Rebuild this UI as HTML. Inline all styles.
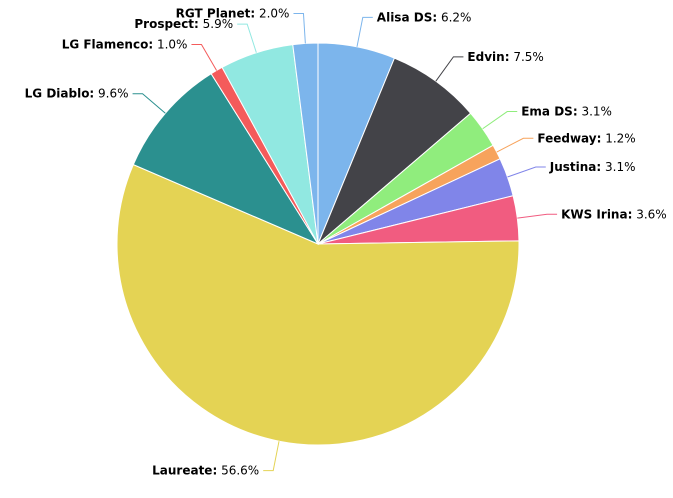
<!DOCTYPE html>
<html><head><meta charset="utf-8">
<style>
html,body{margin:0;padding:0;background:#fff;}
svg{display:block;font-family:"DejaVu Sans","Liberation Sans",sans-serif;}
</style></head>
<body>
<svg id="chart" width="673" height="498" viewBox="0 0 673 498" xmlns="http://www.w3.org/2000/svg">
<rect width="673" height="498" fill="#ffffff"/>
<g id="slices"></g>
<g id="labels"></g>
</svg>
<script>
const categories = ["Alisa DS","Edvin","Ema DS","Feedway","Justina","KWS Irina","Laureate","LG Diablo","LG Flamenco","Prospect","RGT Planet"];
const values = [6.2,7.5,3.1,1.2,3.1,3.6,56.6,9.6,1.0,5.9,2.0];
const colors = ["#7cb5ec","#434348","#90ed7d","#f7a35c","#8085e9","#f15c80","#e4d354","#2b908f","#f45b5b","#91e8e1","#7cb5ec"];

const NS = "http://www.w3.org/2000/svg";
const cx = 318, cy = 244, r = 201, dist = 30;
const total = values.reduce((a,b)=>a+b,0);
const sg = document.getElementById('slices');
const lg = document.getElementById('labels');
function pt(ang, rad){ return [cx + rad*Math.sin(ang), cy - rad*Math.cos(ang)]; }
let cum = 0;
values.forEach((v,i)=>{
  const a0 = cum/total*2*Math.PI;
  cum += v;
  const a1 = cum/total*2*Math.PI;
  const p0 = pt(a0,r), p1 = pt(a1,r);
  const large = (a1-a0) > Math.PI ? 1 : 0;
  const path = document.createElementNS(NS,'path');
  path.setAttribute('d',`M${cx},${cy} L${p0[0]},${p0[1]} A${r},${r} 0 ${large} 1 ${p1[0]},${p1[1]} Z`);
  path.setAttribute('fill',colors[i]);
  path.setAttribute('stroke','#ffffff');
  path.setAttribute('stroke-width','1');
  
  
  sg.appendChild(path);

  const am = (a0+a1)/2;
  const e = pt(am, r), o = pt(am, r+dist);
  const right = Math.sin(am) >= 0;
  const hx = o[0] + (right ? 10 : -10);
  const conn = document.createElementNS(NS,'path');
  conn.setAttribute('d',`M${e[0]},${e[1]} L${o[0]},${o[1]} L${hx},${o[1]}`);
  conn.setAttribute('fill','none');
  conn.setAttribute('stroke',colors[i]);
  conn.setAttribute('stroke-width','1');
  
  
  lg.appendChild(conn);

  const t = document.createElementNS(NS,'text');
  t.setAttribute('x', right ? hx+4 : hx-4);
  t.setAttribute('y', o[1]+4);
  t.setAttribute('text-anchor', right ? 'start' : 'end');
  t.setAttribute('font-size','12');
  t.setAttribute('fill','#000000');
  
  
  const b = document.createElementNS(NS,'tspan');
  b.setAttribute('font-weight','bold');
  b.textContent = categories[i] + ':';
  const n = document.createElementNS(NS,'tspan');
  n.textContent = ' ' + v.toFixed(1) + '%';
  t.appendChild(b); t.appendChild(n);
  lg.appendChild(t);
});
</script>
</body></html>
